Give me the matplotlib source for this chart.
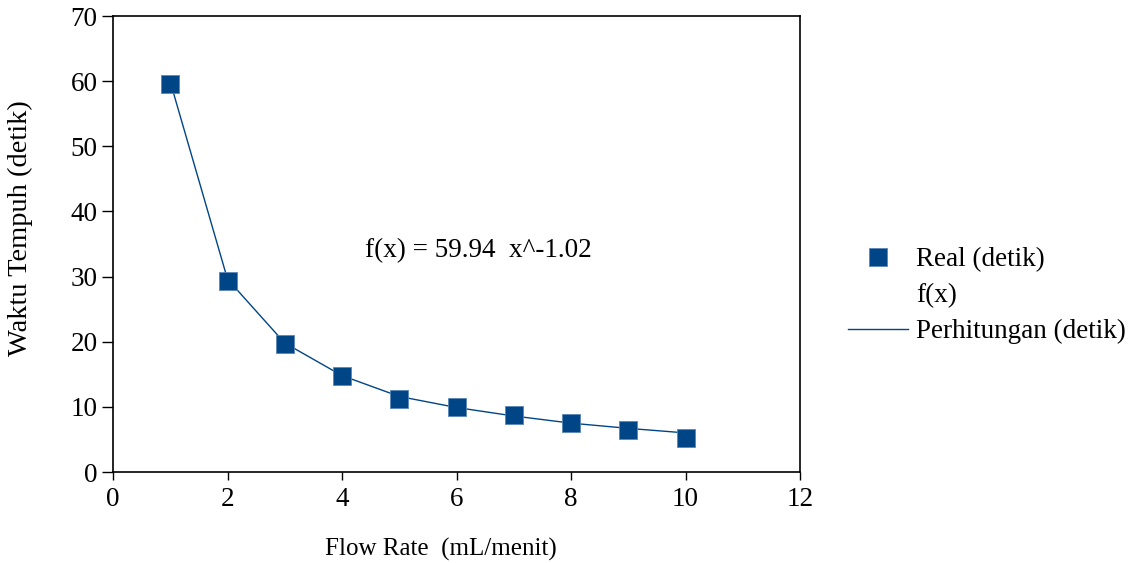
import matplotlib
matplotlib.use("Agg")
import matplotlib.pyplot as plt
from matplotlib.lines import Line2D

plt.rcParams['font.family'] = ['Liberation Serif', 'DejaVu Serif']

flow_rate = [1, 2, 3, 4, 5, 6, 7, 8, 9, 10]
real_detik = [59.5, 29.3, 19.7, 14.8, 11.2, 10.0, 8.8, 7.5, 6.4, 5.2]
perhitungan_detik = [59.9, 29.6, 19.8, 14.8, 11.6, 9.9, 8.6, 7.5, 6.7, 6.0]
x_ticks = [0, 2, 4, 6, 8, 10, 12]
y_ticks = [0, 10, 20, 30, 40, 50, 60, 70]
color = '#004586'

fig = plt.figure(figsize=(11.4, 5.63), dpi=100)
ax = fig.add_axes([113/1140, 1 - 472/563, 687/1140, 456/563])

ax.plot(flow_rate, perhitungan_detik, color=color, lw=1.0, zorder=2)
ax.plot(flow_rate, real_detik, ls='none', marker='s', markersize=12.5,
        color=color, markeredgecolor='#5a86b5', markeredgewidth=0.6, zorder=3)

ax.set_xlim(0, 12)
ax.set_ylim(0, 70)
ax.set_xticks(x_ticks)
ax.set_yticks(y_ticks)
ax.tick_params(axis='both', direction='out', length=8, width=1, labelsize=19.5, pad=3)
ax.tick_params(axis='x', length=6, pad=5)
for s in ax.spines.values():
    s.set_linewidth(1.2)

ax.set_xlabel('Flow Rate  (mL/menit)', fontsize=18)
ax.xaxis.set_label_coords(0.477, -0.145)
ax.set_ylabel('Waktu Tempuh (detik)', fontsize=20.5)
ax.yaxis.set_label_coords(-0.117, 0.535)

ax.text(4.4, 34.0, 'f(x) = 59.94  x^-1.02', fontsize=19.5, ha='left', va='center')

handles = [
    Line2D([], [], ls='none', marker='s', markersize=12.5, color=color,
           markeredgecolor='#5a86b5', markeredgewidth=0.6),
    Line2D([], [], ls='none', marker=None),
    Line2D([], [], color=color, lw=1.0),
]
labels = ['Real (detik)', 'f(x)', 'Perhitungan (detik)']
fig.legend(handles, labels, loc='center left', bbox_to_anchor=(848/1140, 1 - 296/563),
           frameon=False, fontsize=19.5, handlelength=2.22, handletextpad=0.3,
           labelspacing=0.4, borderaxespad=0, borderpad=0)

fig.savefig('out.png', dpi=100)
